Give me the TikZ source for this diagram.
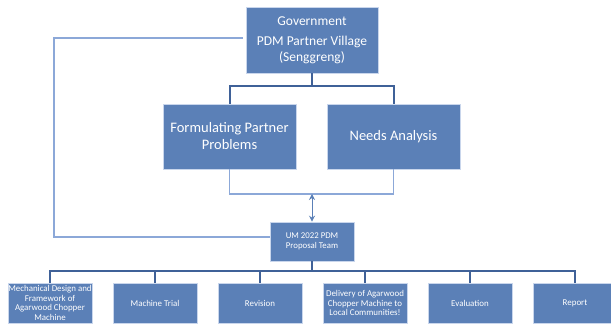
\documentclass[tikz,border=0pt]{standalone}
\usepackage{fontspec}
\setmainfont{Carlito}
\usetikzlibrary{arrows.meta}
\definecolor{boxfill}{HTML}{5B80B7}
\definecolor{boxedge}{HTML}{C9D6EC}
\definecolor{darkline}{HTML}{3F6198}
\definecolor{lightline}{HTML}{8CA8D8}
\begin{document}
\begin{tikzpicture}[x=1pt,y=-1pt,
  boxst/.style={rectangle,fill=boxfill,draw=boxedge,line width=0.6pt,text=white,align=center,inner sep=1pt},
  bigbox/.style={boxst,minimum width=133pt,minimum height=65pt,font=\fontsize{14.5}{17}\selectfont},
  smallbox/.style={boxst,minimum width=84pt,minimum height=40pt,inner sep=0pt,font=\fontsize{8.9}{9.4}\selectfont},
  treeline/.style={draw=darkline,line width=2pt},
  thinline/.style={draw=lightline,line width=1.6pt},
  arr/.style={draw=boxfill,line width=1pt,{Stealth[length=6pt,width=6pt]}-{Stealth[length=6pt,width=6pt]}}
]
\useasboundingbox (0,0) rectangle (611,326);
\fill[white] (0,0) rectangle (611,326);

\node[boxst,minimum width=132pt,minimum height=66pt,font=\fontsize{13.5}{16}\selectfont] (gov) at (312,40) {Government\\[4pt]PDM Partner Village\\(Senggreng)};
\node[bigbox] (form) at (229.5,136.5) {Formulating Partner\\Problems};
\node[bigbox] (needs) at (393.5,136.5) {Needs Analysis};
\node[boxst,minimum width=84pt,minimum height=39pt,font=\fontsize{8.8}{10.5}\selectfont] (um) at (312,241.5) {UM 2022 PDM\\Proposal Team};

\node[smallbox] (b1) at (50,303) {Mechanical Design and\\Framework of\\Agarwood Chopper\\Machine};
\node[smallbox] (b2) at (155,303) {Machine Trial};
\node[smallbox] (b3) at (260,303) {Revision};
\node[smallbox] (b4) at (365,303) {Delivery of Agarwood\\Chopper Machine to\\Local Communities!};
\node[smallbox] (b5) at (470,303) {Evaluation};
\node[smallbox] (b6) at (575,303) {Report};

\coordinate (gt) at (312,86);
\coordinate (br) at (312,194);
\coordinate (bt) at (312,271);
\coordinate (lc1) at (54,38);
\coordinate (lc2) at (54,237);

\draw[treeline] (gov.south) -- (gt);
\draw[treeline] (form.north) |- (gt) -| (needs.north);

\draw[thinline] ([xshift=-3pt]gov.west |- lc1) -- (lc1) -- (lc2) -- (um.west |- lc2);
\draw[draw=lightline,line width=1.4pt] (form.south) |- (br) -| (needs.south);
\draw[arr] (br) -- (um.north);

\draw[treeline] (um.south) -- (bt);
\foreach \b in {b1,b2,b3,b4,b5,b6} {\draw[treeline] (bt) -| (\b.north);}
\end{tikzpicture}
\end{document}
